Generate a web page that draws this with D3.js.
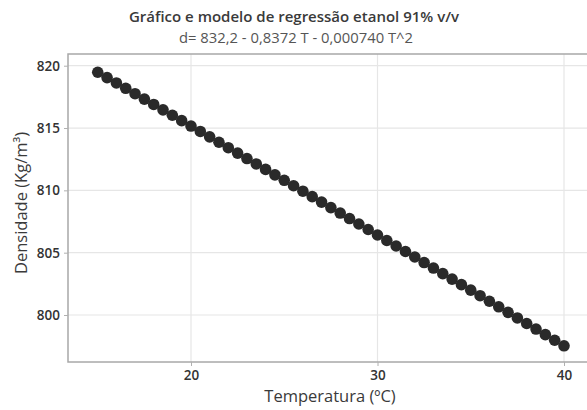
<!DOCTYPE html>
<html><head><meta charset="utf-8">
<script src="https://cdn.jsdelivr.net/npm/d3@7"></script>
<style>body{margin:0;background:#fff}svg{display:block}text{font-family:"Open Sans","Noto Sans",sans-serif}</style>
</head><body>
<svg id="c" width="587" height="410"></svg>
<script>
const temperatures = [15,15.5,16,16.5,17,17.5,18,18.5,19,19.5,20,20.5,21,21.5,22,22.5,23,23.5,24,24.5,25,25.5,26,26.5,27,27.5,28,28.5,29,29.5,30,30.5,31,31.5,32,32.5,33,33.5,34,34.5,35,35.5,36,36.5,37,37.5,38,38.5,39,39.5,40];
const densities = [819.476,819.046,818.615,818.185,817.754,817.322,816.891,816.459,816.026,815.593,815.160,814.726,814.292,813.858,813.423,812.988,812.553,812.117,811.681,811.244,810.808,810.370,809.933,809.495,809.056,808.617,808.178,807.739,807.299,806.859,806.418,805.977,805.536,805.094,804.652,804.209,803.767,803.323,802.880,802.436,801.992,801.547,801.102,800.656,800.211,799.764,799.318,798.871,798.424,797.976,797.528];
const xTicks = [20,30,40];
const yTicks = [800,805,810,815,820];
const titleText = "Gráfico e modelo de regressão etanol 91% v/v";
const subtitleText = "d= 832,2 - 0,8372 T - 0,000740 T^2";
const xLabel = "Temperatura (ºC)";
const yLabel = "Densidade (Kg/m³)";

const svg = d3.select("#c");
const L = 68, T = 54, R = 592, B = 362;
const x = d3.scaleLinear().domain([20,40]).range([191,564]);
const y = d3.scaleLinear().domain([800,820]).range([315,65.7]);

// gridlines
const g = svg.append("g");
g.selectAll(".gx").data(xTicks).join("line")
  .attr("x1", d=>x(d)).attr("x2", d=>x(d)).attr("y1", T).attr("y2", B)
  .attr("stroke","#e6e6e6").attr("stroke-width",1.2);
g.selectAll(".gy").data(yTicks).join("line")
  .attr("x1", L).attr("x2", R).attr("y1", d=>y(d)).attr("y2", d=>y(d))
  .attr("stroke","#e6e6e6").attr("stroke-width",1.2);

// frame
svg.append("rect").attr("x",L).attr("y",T).attr("width",R-L).attr("height",B-T)
  .attr("fill","none").attr("stroke","#a8a8a8").attr("stroke-width",1.5);

// axes
const xa = svg.append("g").attr("transform",`translate(0,${B})`)
  .call(d3.axisBottom(x).tickValues(xTicks).tickSize(4).tickPadding(4).tickFormat(d3.format("d")));
const ya = svg.append("g").attr("transform",`translate(${L},0)`)
  .call(d3.axisLeft(y).tickValues(yTicks).tickSize(4).tickPadding(4).tickFormat(d3.format("d")));
[xa,ya].forEach(a=>{
  a.select(".domain").remove();
  a.selectAll(".tick line").attr("stroke","#b0b0b0");
  a.selectAll(".tick text").attr("fill","#333").attr("font-size",13.5).attr("font-weight",600)
   .style("font-family",'"Open Sans",sans-serif');
});

// points
svg.append("g").selectAll("circle").data(temperatures).join("circle")
  .attr("cx",(d)=>x(d)).attr("cy",(d,i)=>y(densities[i])).attr("r",5.8)
  .attr("fill","#2a2a2a");

// titles
svg.append("text").attr("x",294).attr("y",22).attr("text-anchor","middle")
  .attr("font-size",15).attr("font-weight",600).attr("fill","#3a3a3a").text(titleText);
svg.append("text").attr("x",296).attr("y",43).attr("text-anchor","middle")
  .attr("font-size",14.8).attr("fill","#555").text(subtitleText);
svg.append("text").attr("x",330).attr("y",402).attr("text-anchor","middle")
  .attr("font-size",16.5).attr("fill","#3a3a3a").text(xLabel);
svg.append("text").attr("transform","translate(27,203) rotate(-90)").attr("text-anchor","middle")
  .attr("font-size",16.5).attr("fill","#3a3a3a").text(yLabel);
</script>
</body></html>
